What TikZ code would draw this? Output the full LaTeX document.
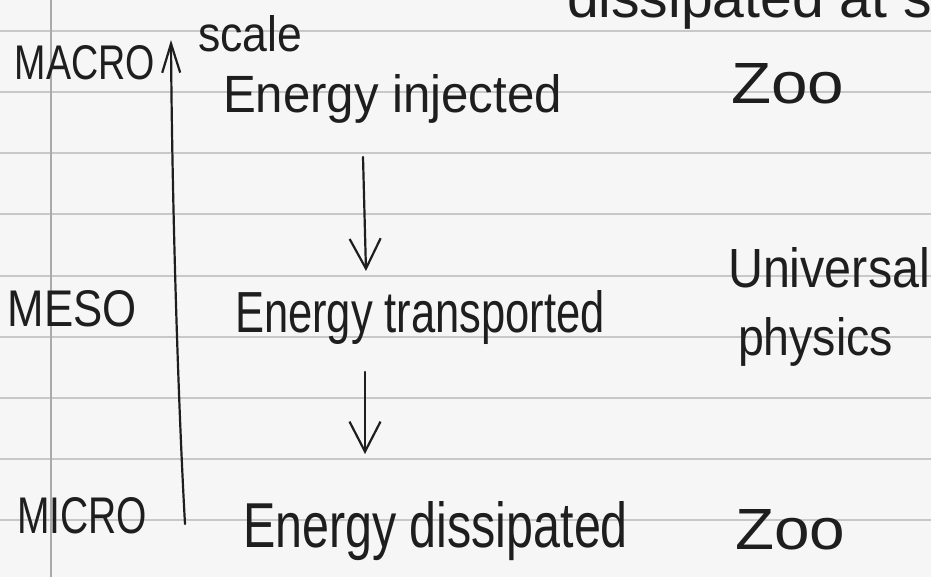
\documentclass[tikz,border=0pt]{standalone}
\usepackage{fontspec}
\usepackage{graphicx}
\setmainfont{Liberation Sans}
\usetikzlibrary{arrows.meta}
\definecolor{ink}{RGB}{30,30,30}
\definecolor{rule}{RGB}{200,200,200}
\definecolor{margin}{RGB}{170,170,170}
\definecolor{paper}{RGB}{246,246,246}
\newcommand\hw[2]{\resizebox{#1pt}{!}{#2}}
\newcommand\hwh[3]{\resizebox{#1pt}{#2pt}{#3}}
\tikzset{
  hand/.style={inner sep=0pt, outer sep=0pt, anchor=base west, text=ink, font=\fontsize{40}{44}\selectfont},
  pen/.style={draw=ink, line width=2.2pt, line cap=round, line join=round},
  penarrow/.style={pen, -{Straight Barb[length=30pt, width=31pt, line width=2.2pt]}},
  scalearrow/.style={pen, -{Straight Barb[length=29pt, width=18pt, line width=2.2pt]}},
  ruling/.style={draw=rule, line width=1.4pt},
  marginline/.style={draw=margin, line width=1.5pt}
}
\begin{document}
\begin{tikzpicture}[x=1pt, y=-1pt]
\useasboundingbox (0,0) rectangle (931,577);
\fill[paper] (0,0) rectangle (931,577);
% ruled paper
\foreach \yy in {31,92,153,214,276,337,398,459,520}
  \draw[ruling] (0,\yy) -- (931,\yy);
\draw[marginline] (51,0) -- (51,577);

% texts
\node[hand] (top) at (567,18) {\hw{365}{dissipated at s}};
\node[hand] (macro) at (15,80) {\hwh{140}{34}{MACRO}};
\node[hand] (scale) at (198,52) {\hwh{104}{36}{scale}};
\node[hand] (inj) at (223,113) {\hwh{339}{38}{Energy injected}};
\node[hand] (zoo1) at (731,104) {\hwh{113}{40}{Zoo}};
\node[hand] (meso) at (8,326) {\hwh{129}{36}{MESO}};
\node[hand] (trans) at (235,332) {\hwh{370}{42}{Energy transported}};
\node[hand] (univ) at (728,287) {\hwh{202}{40}{Universal}};
\node[hand] (phys) at (738,355) {\hwh{155}{38}{physics}};
\node[hand] (micro) at (17,533) {\hwh{130}{36}{MICRO}};
\node[hand] (diss) at (243,547) {\hwh{385}{46}{Energy dissipated}};
\node[hand] (zoo2) at (735,549) {\hwh{110}{40}{Zoo}};

% connector end points
\coordinate (axisbot) at (185,524);
\coordinate (axistop) at (171,40);
\coordinate (a1s) at (363,157);
\coordinate (a1e) at (366,271);
\coordinate (a2s) at (365,372);
\coordinate (a2e) at (365,454);

% scale axis
\draw[scalearrow] (axisbot) .. controls (178,400) and (172,200) .. (axistop);
% energy cascade arrows
\draw[penarrow] (a1s) -- (a1e);
\draw[penarrow] (a2s) -- (a2e);
\end{tikzpicture}
\end{document}
